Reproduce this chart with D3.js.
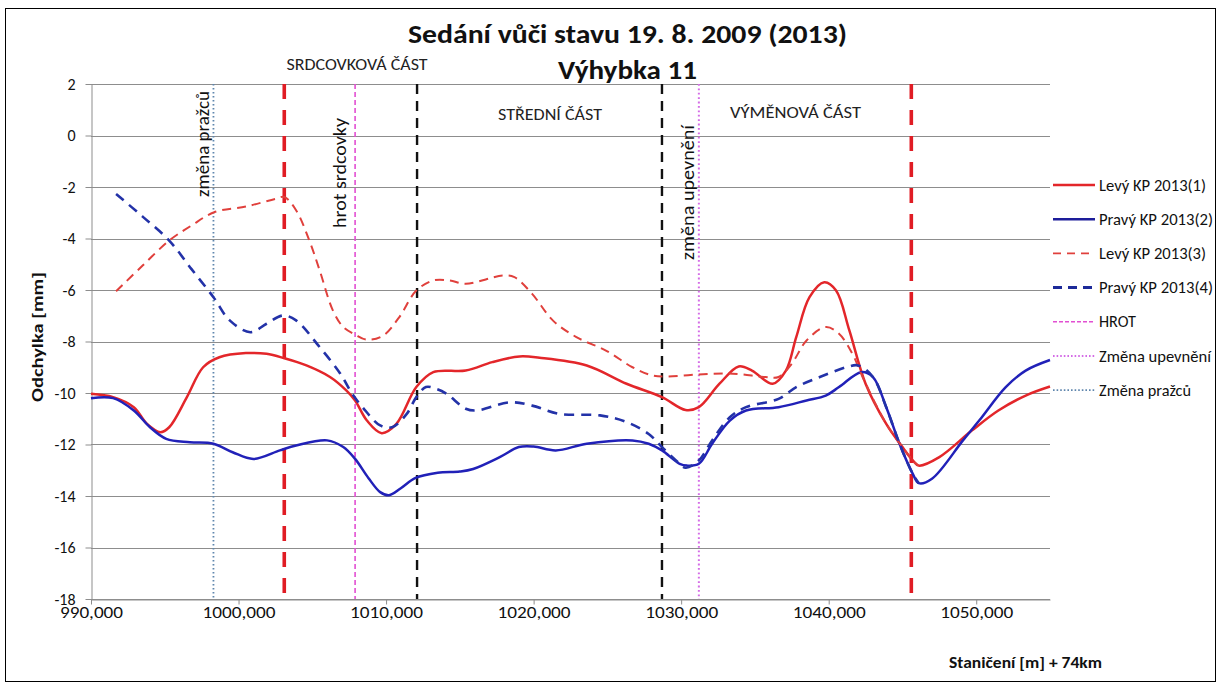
<!DOCTYPE html>
<html>
<head>
<meta charset="utf-8">
<script src="https://cdn.jsdelivr.net/npm/d3@7/dist/d3.min.js"></script>
<style>
  html, body { margin: 0; padding: 0; background: #fff; }
  svg { display: block; font-family: Carlito, Calibri, Lato, "Open Sans", sans-serif; }
</style>
</head>
<body>
<svg id="chart" width="1222" height="687"></svg>
<script>
// Staničení [m] (x) and deviation [mm] (y) for each measured rail
const levy1X = [990.0, 991.5, 992.9, 993.8, 994.7, 995.3, 996.5, 997.6, 998.7, 1000.5, 1001.9, 1003.1, 1004.6, 1006.2, 1007.3, 1007.9, 1008.7, 1009.7, 1010.7, 1012.05, 1013.2, 1015.4, 1017.2, 1019.05, 1020.4, 1023.6, 1026.3, 1028.7, 1030.3, 1031.2, 1032.6, 1033.9, 1034.8, 1036.2, 1037.1, 1037.8, 1038.7, 1039.7, 1040.5, 1041.4, 1042.5, 1043.9, 1045.0, 1045.7, 1046.1, 1047.5, 1049.7, 1051.5, 1053.35, 1055.0];
const levy1Y = [-10.03, -10.16, -10.55, -11.2, -11.52, -11.33, -10.16, -9.0, -8.61, -8.45, -8.48, -8.65, -8.93, -9.38, -9.9, -10.29, -11.07, -11.56, -11.2, -9.77, -9.19, -9.13, -8.8, -8.58, -8.63, -8.93, -9.64, -10.16, -10.66, -10.55, -9.64, -8.97, -9.13, -9.64, -9.13, -7.83, -6.28, -5.7, -6.02, -7.57, -9.64, -11.2, -12.1, -12.62, -12.82, -12.49, -11.46, -10.68, -10.1, -9.75];

const pravy2X = [990.0, 991.5, 992.9, 994.0, 995.1, 996.7, 998.3, 999.6, 1001.0, 1002.8, 1003.9, 1006.0, 1007.1, 1007.9, 1008.8, 1009.6, 1010.2, 1011.0, 1012.0, 1013.5, 1015.0, 1015.9, 1017.7, 1019.0, 1020.0, 1021.5, 1023.6, 1026.7, 1027.8, 1028.7, 1029.9, 1030.4, 1031.2, 1032.1, 1033.3, 1034.4, 1036.6, 1038.5, 1039.8, 1040.7, 1042.2, 1043.0, 1043.9, 1044.8, 1045.7, 1046.1, 1047.0, 1049.1, 1050.2, 1052.0, 1053.35, 1055.0];
const pravy2Y = [-10.2, -10.2, -10.68, -11.33, -11.78, -11.91, -11.97, -12.3, -12.56, -12.23, -12.04, -11.84, -12.1, -12.56, -13.3, -13.85, -13.97, -13.7, -13.3, -13.1, -13.05, -12.95, -12.49, -12.1, -12.08, -12.23, -11.97, -11.84, -11.97, -12.23, -12.75, -12.82, -12.75, -11.97, -11.07, -10.68, -10.55, -10.29, -10.1, -9.77, -9.19, -9.38, -10.55, -11.97, -13.14, -13.5, -13.33, -11.84, -11.07, -9.77, -9.13, -8.72];

const levy3X = [991.7, 993.5, 995.3, 996.8, 998.35, 1000.5, 1002.5, 1003.1, 1003.9, 1004.8, 1005.5, 1006.4, 1007.1, 1007.9, 1008.7, 1009.8, 1010.9, 1012.05, 1013.2, 1014.3, 1015.4, 1017.9, 1018.7, 1019.9, 1021.3, 1022.9, 1024.9, 1026.7, 1028.05, 1029.0, 1031.2, 1033.5, 1035.7, 1036.6, 1037.5, 1038.5, 1039.8, 1040.7, 1041.6, 1042.3, 1043.9, 1045.0, 1045.7, 1046.1];
const levy3Y = [-6.05, -5.05, -4.08, -3.5, -2.98, -2.76, -2.46, -2.39, -2.9, -4.08, -5.24, -6.8, -7.44, -7.73, -7.93, -7.77, -7.05, -6.02, -5.63, -5.63, -5.76, -5.44, -5.5, -6.15, -7.18, -7.83, -8.35, -9.0, -9.32, -9.36, -9.28, -9.25, -9.38, -9.38, -8.86, -7.96, -7.44, -7.7, -8.47, -9.38, -11.2, -12.1, -12.62, -12.82];

const pravy4X = [991.7, 993.5, 995.3, 996.8, 998.3, 999.4, 1000.8, 1001.9, 1003.0, 1003.9, 1005.5, 1006.9, 1007.7, 1008.4, 1009.6, 1010.4, 1011.4, 1012.05, 1012.7, 1013.4, 1014.1, 1015.4, 1016.1, 1018.4, 1019.9, 1021.75, 1024.5, 1026.3, 1027.8, 1028.7, 1029.65, 1030.3, 1031.2, 1032.1, 1033.3, 1034.4, 1036.6, 1037.8, 1039.4, 1041.2, 1042.0, 1043.0, 1043.9, 1044.8, 1045.7, 1046.1];
const pravy4Y = [-2.27, -3.15, -4.08, -5.18, -6.28, -7.18, -7.64, -7.31, -6.99, -7.18, -8.22, -9.25, -10.03, -10.55, -11.26, -11.33, -10.81, -10.16, -9.77, -9.84, -10.03, -10.61, -10.68, -10.36, -10.49, -10.81, -10.87, -11.13, -11.59, -12.1, -12.62, -12.9, -12.62, -11.84, -10.94, -10.55, -10.23, -9.77, -9.38, -9.0, -8.93, -9.38, -10.55, -11.97, -13.14, -13.5];

// Vertical markers along the turnout
const sectionBounds = [1003.1, 1045.6];      // red: heart part / switch part limits
const middleBounds = [1012.1, 1028.7];       // black: middle part limits
const hrotAt = [1007.9];
const upevneniAt = [1031.2];
const prazcuAt = [998.3];

// Axis ticks
const xTicks = [990, 1000, 1010, 1020, 1030, 1040, 1050];
const xTickLabels = ["990,000", "1000,000", "1010,000", "1020,000", "1030,000", "1040,000", "1050,000"];
const yTicks = [2, 0, -2, -4, -6, -8, -10, -12, -14, -16, -18];

const zip = (xs, ys) => xs.map((v, i) => [v, ys[i]]);

const series = [
  { name: "Levý KP 2013(1)",  data: zip(levy1X, levy1Y),  color: "#e3262a", width: 2.5, dash: null },
  { name: "Pravý KP 2013(2)", data: zip(pravy2X, pravy2Y), color: "#2121b8", width: 2.5, dash: null },
  { name: "Levý KP 2013(3)",  data: zip(levy3X, levy3Y),  color: "#e0403c", width: 2,   dash: "9,6" },
  { name: "Pravý KP 2013(4)", data: zip(pravy4X, pravy4Y), color: "#2332a8", width: 2.6, dash: "10,7" }
];

const svg = d3.select("#chart");
const W = 1222, H = 687;
const plot = { left: 91, right: 1050, top: 84, bottom: 599 };

const x = d3.scaleLinear().domain([990, 1055]).range([plot.left, plot.right]);
const y = d3.scaleLinear().domain([-18, 2]).range([plot.bottom, plot.top]);

// helper: text squeezed/stretched to a given width
function fit(sel, w) {
  if (w) sel.attr("textLength", w).attr("lengthAdjust", "spacingAndGlyphs");
  return sel;
}

svg.append("rect").attr("x", 0).attr("y", 0).attr("width", W).attr("height", H).attr("fill", "#fff");
svg.append("rect").attr("x", 5.5).attr("y", 8.5).attr("width", 1210).attr("height", 673)
  .attr("fill", "none").attr("stroke", "#000").attr("stroke-width", 1);

// horizontal gridlines
svg.append("g").selectAll("line").data(yTicks).join("line")
  .attr("x1", plot.left).attr("x2", plot.right)
  .attr("y1", d => Math.round(y(d)) + 0.5).attr("y2", d => Math.round(y(d)) + 0.5)
  .attr("stroke", "#8d8d8d").attr("stroke-width", 1);

// axes
const gy = svg.append("g").attr("transform", `translate(${plot.left + 0.5},0)`)
  .attr("font-size", 16).attr("font-family", "Carlito, Calibri, Lato, sans-serif")
  .call(d3.axisLeft(y).tickValues(yTicks).tickSize(6).tickSizeOuter(0).tickPadding(10).tickFormat(d => String(d)));
const gx = svg.append("g").attr("transform", `translate(0,${Math.round(y(-18)) + 0.5})`)
  .call(d3.axisBottom(x).tickValues(xTicks).tickSize(5).tickSizeOuter(0)
    .tickFormat((d, i) => xTickLabels[i]));
[gx, gy].forEach(g => {
  g.attr("font-size", 16).attr("font-family", "Carlito, Calibri, Lato, sans-serif");
  g.select(".domain").attr("stroke", "#8d8d8d");
  g.selectAll(".tick line").attr("stroke", "#8d8d8d");
  g.selectAll(".tick text").attr("fill", "#111");
});
gx.selectAll(".tick text").attr("y", 18).attr("dy", null)
  .each(function (d, i) { fit(d3.select(this), xTickLabels[i].length > 7 ? 73 : 63); });

// vertical markers
function vlines(vals, color, width, dash) {
  svg.append("g").selectAll("line").data(vals).join("line")
    .attr("x1", d => x(d)).attr("x2", d => x(d))
    .attr("y1", plot.top).attr("y2", plot.bottom)
    .attr("stroke", color).attr("stroke-width", width)
    .attr("stroke-dasharray", dash);
}
vlines(prazcuAt, "#5f86ad", 1.8, "1.6,2.4");
vlines(sectionBounds, "#e01c24", 3.6, "15,11");
vlines(hrotAt, "#e24fd2", 1.6, "5,3");
vlines(middleBounds, "#111", 2.4, "10,7");
vlines(upevneniAt, "#d46ce6", 2, "1.8,2.6");

// data lines (smoothed)
const line = d3.line().x(d => x(d[0])).y(d => y(d[1])).curve(d3.curveCatmullRom.alpha(0.5));
svg.append("g").selectAll("path").data(series).join("path")
  .attr("d", d => line(d.data))
  .attr("fill", "none")
  .attr("stroke", d => d.color)
  .attr("stroke-width", d => d.width)
  .attr("stroke-dasharray", d => d.dash)
  .attr("stroke-linejoin", "round");

// rotated annotations next to the markers
const notes = [
  { text: "změna pražců",    x: 209, y: 197, len: 106 },
  { text: "hrot srdcovky",   x: 346, y: 228, len: 110 },
  { text: "změna upevnění",  x: 694, y: 260, len: 135 }
];
notes.forEach(n => {
  fit(svg.append("text").attr("transform", `translate(${n.x},${n.y}) rotate(-90)`)
    .attr("fill", "#111").style("font-size", "18px").text(n.text), n.len);
});

// part names
const parts = [
  { text: "SRDCOVKOVÁ ČÁST", x: 357, y: 70, len: 141 },
  { text: "STŘEDNÍ ČÁST",    x: 550, y: 120, len: 104 },
  { text: "VÝMĚNOVÁ ČÁST",   x: 795.5, y: 118, len: 131 }
];
parts.forEach(p => {
  fit(svg.append("text").attr("x", p.x).attr("y", p.y).attr("text-anchor", "middle")
    .attr("fill", "#222").style("font-size", "16px").text(p.text), p.len);
});

// titles
fit(svg.append("text").attr("x", 627.5).attr("y", 43).attr("text-anchor", "middle")
  .attr("fill", "#111").style("font-size", "27px").style("font-weight", "bold")
  .text("Sedání vůči stavu 19. 8. 2009 (2013)"), 439);
fit(svg.append("text").attr("x", 627.5).attr("y", 79).attr("text-anchor", "middle")
  .attr("fill", "#111").style("font-size", "27px").style("font-weight", "bold")
  .text("Výhybka 11"), 139);

// axis titles
fit(svg.append("text").attr("transform", "translate(43,337) rotate(-90)").attr("text-anchor", "middle")
  .attr("fill", "#111").style("font-size", "15.5px").style("font-weight", "bold")
  .text("Odchylka [mm]"), 130);
fit(svg.append("text").attr("x", 1102).attr("y", 668).attr("text-anchor", "end")
  .attr("fill", "#111").style("font-size", "15.5px").style("font-weight", "bold")
  .text("Staničení [m] + 74km"), 153);

// legend
const legendItems = [
  { name: series[0].name, color: series[0].color, width: 2.4, dash: null, len: 107 },
  { name: series[1].name, color: "#1d1d9a", width: 2.4, dash: null, len: 114 },
  { name: series[2].name, color: series[2].color, width: 1.6, dash: "8,6", len: 107 },
  { name: series[3].name, color: "#1d2a99", width: 3, dash: "9,6", len: 114 },
  { name: "HROT", color: "#e24fd2", width: 1.6, dash: "4,2", len: 37 },
  { name: "Změna upevnění", color: "#d46ce6", width: 1.8, dash: "1.6,2", len: 112 },
  { name: "Změna pražců", color: "#5f86ad", width: 1.8, dash: "1.6,2", len: 92 }
];
const lg = svg.append("g").selectAll("g").data(legendItems).join("g")
  .attr("transform", (d, i) => `translate(0,${185 + i * 34.2})`);
lg.append("line").attr("x1", 1053).attr("x2", 1095).attr("y1", 0).attr("y2", 0)
  .attr("stroke", d => d.color).attr("stroke-width", d => d.width).attr("stroke-dasharray", d => d.dash);
lg.append("text").attr("x", 1099).attr("y", 5.5).attr("fill", "#111").style("font-size", "15.5px")
  .text(d => d.name).each(function (d) { fit(d3.select(this), d.len); });
</script>
</body>
</html>
